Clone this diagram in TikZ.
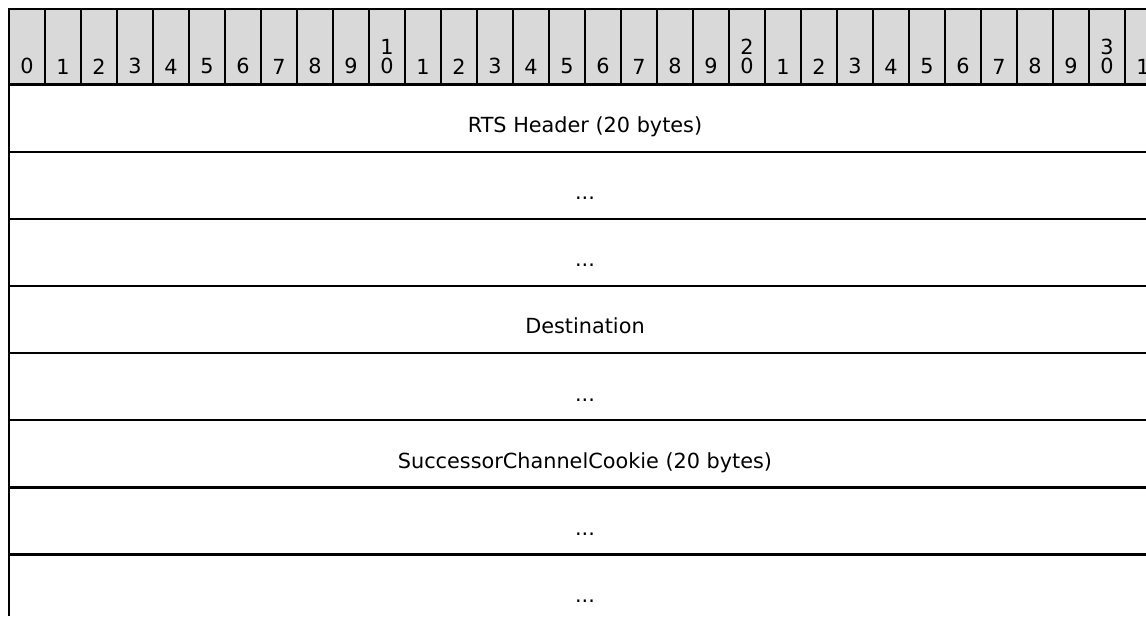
\documentclass[tikz,border=0pt]{standalone}
\usepackage{fontspec}
\setmainfont{DejaVu Sans}
\usetikzlibrary{positioning}
\definecolor{hdr_gray}{RGB}{217,217,217}
\newcommand{\gapdots}{...}

\begin{document}
\begin{tikzpicture}[x=1pt,y=-1pt,line width=2pt]
    \tikzstyle{bit}=[inner sep=0pt,anchor=south,align=center,font=\fontsize{20.8}{19.5}\selectfont]
    \tikzstyle{field}=[inner sep=0pt,anchor=base,font=\fontsize{20.8}{24}\selectfont]
    \tikzstyle{rule}=[draw=black,line width=2.2pt]

    \useasboundingbox (0,0) rectangle (1146,616);
    \clip (0,0) rectangle (1146,616);

    % bit ruler
    \fill[hdr_gray] (9,9) rectangle (1161,84.5);
    \foreach \lbl [count=\i from 0] in {0,1,2,3,4,5,6,7,8,9,{1\\0},1,2,3,4,5,6,7,8,9,{2\\0},1,2,3,4,5,6,7,8,9,{3\\0},1}
    {
        \draw[rule] (9+36*\i,9) -- (9+36*\i,84.5);
        \node[bit] (b\i) at (27+36*\i,75) {\lbl};
    }
    \draw[rule] (8,9) -- (1161,9);
    \draw[rule] (9,8) -- (9,616);

    % fields
    \foreach \txt [count=\k from 0] in {RTS Header (20 bytes),\gapdots,\gapdots,Destination,\gapdots,SuccessorChannelCookie (20 bytes),\gapdots,\gapdots}
    {
        \draw[rule] (9,84.5+67.15*\k) -- (1161,84.5+67.15*\k);
        \node[field] (f\k) at (585,84.5+67.15*\k+48) {\txt};
    }
\end{tikzpicture}
\end{document}
